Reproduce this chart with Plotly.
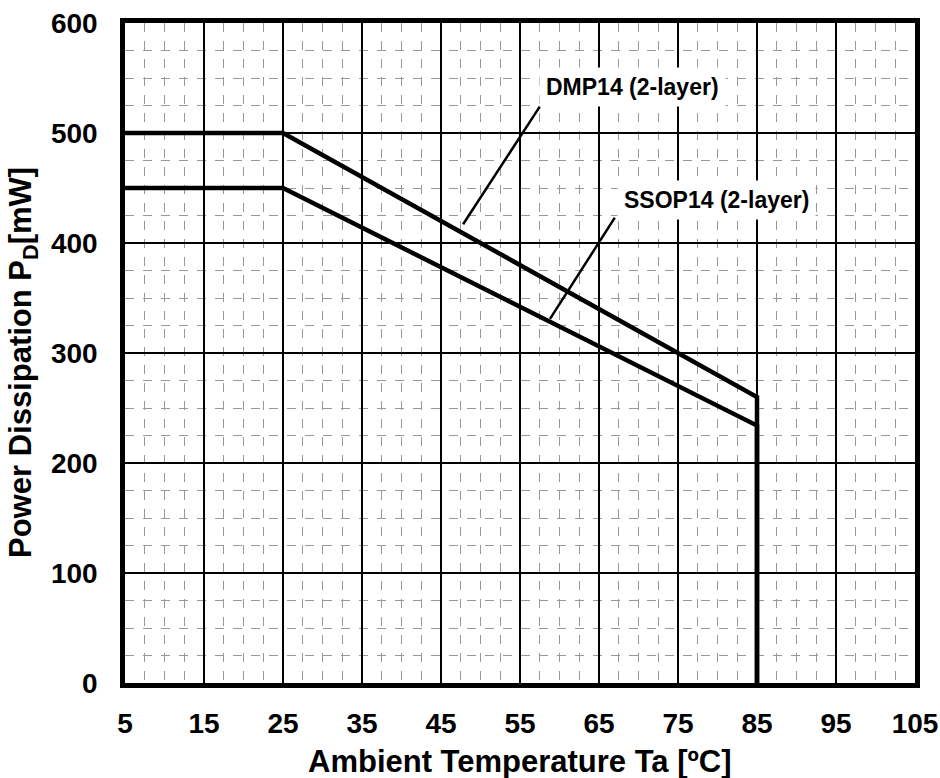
import plotly.graph_objects as go

# Data
dmp_x = [5, 25, 85, 85]
dmp_y = [500, 500, 260, 0]
ssop_x = [5, 25, 85, 85]
ssop_y = [450, 450, 234, 0]

x_ticks = [5, 15, 25, 35, 45, 55, 65, 75, 85, 95, 105]
y_ticks = [0, 100, 200, 300, 400, 500, 600]

labels = ["DMP14 (2-layer)", "SSOP14 (2-layer)"]
label_x = [69.2, 79.9]
label_y = [542, 439]
# leader lines: (x0, y0, x1, y1)
leader_lines = [
    (57.5, 524, 47.8, 417),
    (67.0, 423, 58.8, 331),
]

FONT = "Liberation Sans, Arial, sans-serif"

fig = go.Figure()
for xs, ys in [(dmp_x, dmp_y), (ssop_x, ssop_y)]:
    fig.add_trace(go.Scatter(x=xs, y=ys, mode="lines",
                             line=dict(color="black", width=4.5),
                             showlegend=False, hoverinfo="skip"))

for (x0, y0, x1, y1) in leader_lines:
    fig.add_shape(type="line", x0=x0, y0=y0, x1=x1, y1=y1,
                  xref="x", yref="y", line=dict(color="black", width=2.5))

for t, lx, ly in zip(labels, label_x, label_y):
    fig.add_annotation(x=lx, y=ly, xref="x", yref="y", text="<b>%s</b>" % t,
                       showarrow=False, bgcolor="white", borderpad=6,
                       font=dict(family=FONT, size=23, color="black"))

axis_common = dict(
    showline=True, linecolor="black", linewidth=4.5, mirror=True,
    showgrid=True, gridcolor="black", gridwidth=1.5,
    zeroline=False, ticks="", automargin=False, ticklabeloverflow="allow",
    tickfont=dict(family=FONT, size=28, color="black", weight="bold"),
)

fig.update_xaxes(range=[5, 105], tickvals=x_ticks, ticktext=[str(v) for v in x_ticks],
                 ticklabelstandoff=12,
                 minor=dict(dtick=2.5, tick0=5, showgrid=True, gridcolor="#999999",
                            griddash="dash", gridwidth=1),
                 **axis_common)
fig.update_yaxes(range=[0, 600], tickvals=y_ticks, ticktext=[str(v) for v in y_ticks],
                 ticklabelstandoff=17,
                 minor=dict(dtick=25, tick0=0, showgrid=True, gridcolor="#999999",
                            griddash="dash", gridwidth=1),
                 **axis_common)

fig.add_annotation(x=0.5, y=0, xref="paper", yref="paper", yshift=-78,
                   xanchor="center", yanchor="middle",
                   text="<b>Ambient Temperature Ta [ºC]</b>", showarrow=False,
                   font=dict(family=FONT, size=31, color="black"))
fig.add_annotation(x=0, y=0.5, xref="paper", yref="paper", xshift=-102, yshift=-10,
                   xanchor="center", yanchor="middle",
                   text="<b>Power Dissipation P<sub>D</sub>[mW]</b>", showarrow=False,
                   textangle=-90,
                   font=dict(family=FONT, size=31, color="black"))

fig.update_layout(width=940, height=778,
                  margin=dict(l=125, r=25, t=23, b=95),
                  plot_bgcolor="white", paper_bgcolor="white")

fig.write_html("out.html", config={"displayModeBar": False},
               post_script="document.body.style.margin='0';document.body.style.overflow='hidden';")
